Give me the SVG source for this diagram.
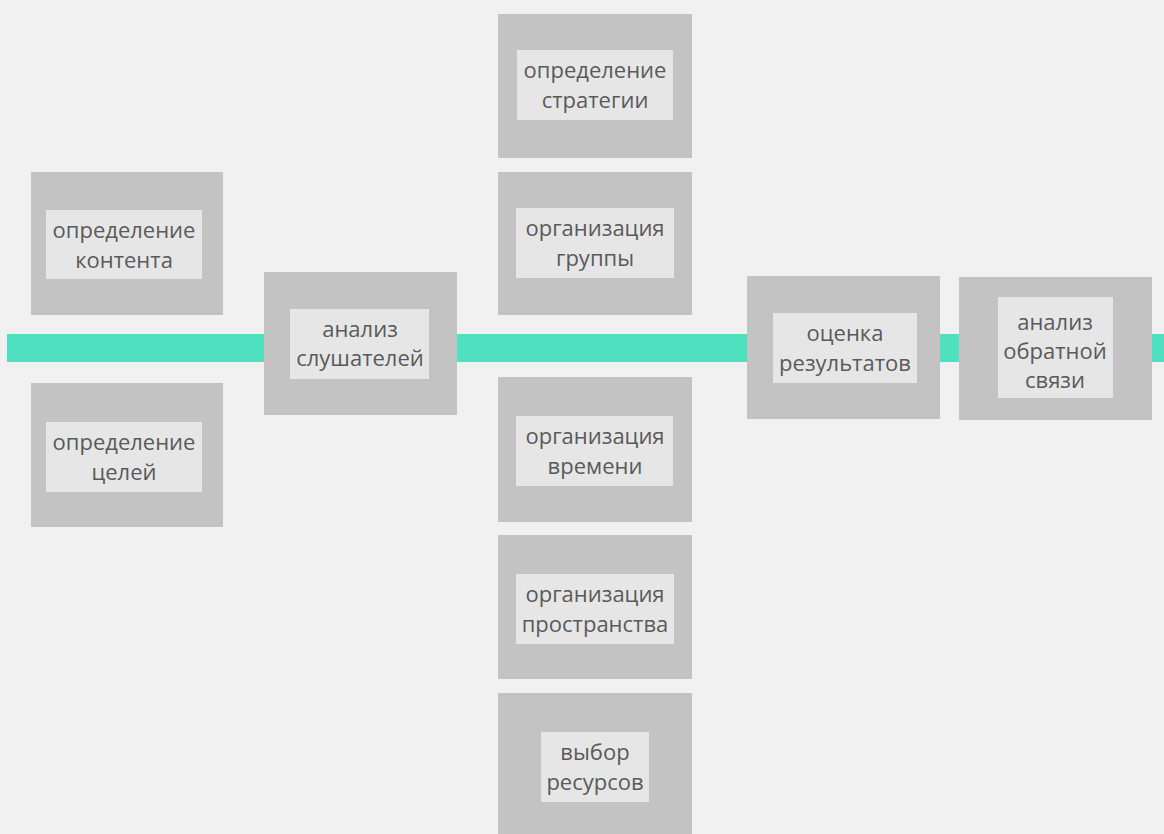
<svg xmlns="http://www.w3.org/2000/svg" width="1164" height="834" viewBox="0 0 1164 834">
<style>
.outer{fill:#c4c3c4}
.inner{fill:#e6e6e6}
.t{font-family:"Open Sans","Noto Sans",sans-serif;font-size:22px;fill:#5a5a5a;text-anchor:middle}
</style>
<rect x="0" y="0" width="1164" height="834" fill="#f1f1f1"/>
<g id="connectors">
<rect x="7" y="334" width="1157" height="28" fill="#4fe0c0"/>
</g>
<g id="n-content">
<rect class="outer" x="31" y="172" width="192" height="143"/>
<rect class="inner" x="46" y="210" width="156" height="69"/>
<text class="t" x="124" y="238">определение</text>
<text class="t" x="124" y="268">контента</text>
</g>
<g id="n-goals">
<rect class="outer" x="31" y="383" width="192" height="144"/>
<rect class="inner" x="46" y="422" width="156" height="70"/>
<text class="t" x="124" y="450">определение</text>
<text class="t" x="124" y="480">целей</text>
</g>
<g id="n-audience">
<rect class="outer" x="264" y="272" width="193" height="143"/>
<rect class="inner" x="290" y="309" width="139" height="70"/>
<text class="t" x="360" y="337">анализ</text>
<text class="t" x="360" y="366">слушателей</text>
</g>
<g id="n-strategy">
<rect class="outer" x="498" y="14" width="194" height="144"/>
<rect class="inner" x="517" y="50" width="156" height="70"/>
<text class="t" x="595" y="78">определение</text>
<text class="t" x="595" y="108">стратегии</text>
</g>
<g id="n-group">
<rect class="outer" x="498" y="172" width="194" height="143"/>
<rect class="inner" x="516" y="208" width="158" height="70"/>
<text class="t" x="595" y="236">организация</text>
<text class="t" x="595" y="266">группы</text>
</g>
<g id="n-time">
<rect class="outer" x="498" y="377" width="194" height="145"/>
<rect class="inner" x="516" y="416" width="157" height="70"/>
<text class="t" x="595" y="444">организация</text>
<text class="t" x="595" y="474">времени</text>
</g>
<g id="n-space">
<rect class="outer" x="498" y="535" width="194" height="144"/>
<rect class="inner" x="516" y="574" width="158" height="70"/>
<text class="t" x="595" y="602">организация</text>
<text class="t" x="595" y="632">пространства</text>
</g>
<g id="n-resources">
<rect class="outer" x="498" y="693" width="194" height="150"/>
<rect class="inner" x="541" y="732" width="108" height="70"/>
<text class="t" x="595" y="760">выбор</text>
<text class="t" x="595" y="790">ресурсов</text>
</g>
<g id="n-results">
<rect class="outer" x="747" y="276" width="193" height="143"/>
<rect class="inner" x="773" y="313" width="144" height="70"/>
<text class="t" x="845" y="341">оценка</text>
<text class="t" x="845" y="371">результатов</text>
</g>
<g id="n-feedback">
<rect class="outer" x="959" y="277" width="193" height="143"/>
<rect class="inner" x="998" y="297" width="115" height="101"/>
<text class="t" x="1055" y="330">анализ</text>
<text class="t" x="1055" y="359">обратной</text>
<text class="t" x="1055" y="388">связи</text>
</g>
</svg>
